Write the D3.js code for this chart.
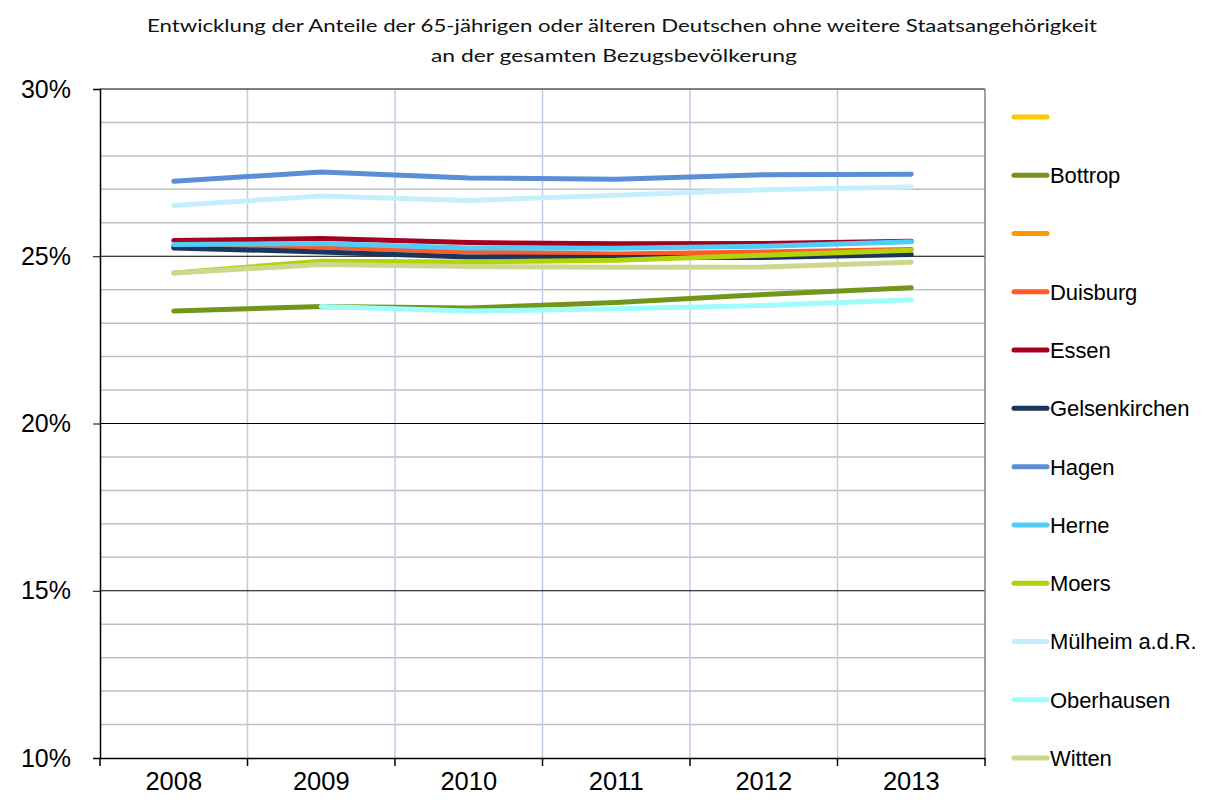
<!DOCTYPE html>
<html>
<head>
<meta charset="utf-8">
<script src="https://cdn.jsdelivr.net/npm/d3@7"></script>
<style>
  body { margin: 0; background: #fff; }
  svg { display: block; }
</style>
</head>
<body>
<div id="chart"></div>
<script>
(function() {

  // data (shares, in %)
  var years = ['2008', '2009', '2010', '2011', '2012', '2013'];
  var names = ['', 'Bottrop', '', 'Duisburg', 'Essen', 'Gelsenkirchen', 'Hagen', 'Herne',
    'Moers', 'Mülheim a.d.R.', 'Oberhausen', 'Witten'];
  var colors = ['#ffc800', '#719619', '#ff9900', '#ff5a2a', '#a50021', '#1b365d', '#5a8ed5',
    '#50cdf7', '#b4d20b', '#c6effd', '#9efcfc', '#ccd88f'];

  var blank1 = [null, null, null, null, null, null];
  var bottrop = [23.36, 23.5, 23.45, 23.62, 23.86, 24.06];
  var blank2 = [null, null, null, null, null, null];
  var duisburg = [25.3, 25.28, 25.13, 25.07, 25.13, 25.2];
  var essen = [25.47, 25.53, 25.41, 25.37, 25.38, 25.45];
  var gelsenkirchen = [25.25, 25.13, 24.98, 24.96, 24.96, 25.05];
  var hagen = [27.24, 27.52, 27.34, 27.3, 27.44, 27.45];
  var herne = [25.35, 25.38, 25.25, 25.24, 25.3, 25.43];
  var moers = [24.5, 24.85, 24.83, 24.88, 25.03, 25.18];
  var muelheim = [26.52, 26.8, 26.67, 26.82, 26.99, 27.07];
  var oberhausen = [null, 23.5, 23.36, 23.43, 23.53, 23.7];
  var witten = [24.5, 24.75, 24.69, 24.67, 24.68, 24.82];

  var yTicks = [10, 15, 20, 25, 30];

  var series = [blank1, bottrop, blank2, duisburg, essen, gelsenkirchen, hagen, herne,
    moers, muelheim, oberhausen, witten];

  init();

  function init() {
    var width = 1210;
    var height = 808;

    var svg = d3.select('#chart')
      .append('svg')
      .attr('width', width)
      .attr('height', height);

    var x = d3.scaleBand()
      .domain(years)
      .range([100, 985]);

    var y = d3.scaleLinear()
      .domain([10, 30])
      .range([758, 89]);

    // title
    var title = svg.append('g')
      .attr('font-family', 'Lato, "Open Sans", sans-serif')
      .attr('font-size', 16.5)
      .attr('fill', '#111')
      .attr('text-anchor', 'middle');
    title.append('text')
      .attr('x', 622).attr('y', 32)
      .attr('textLength', 950).attr('lengthAdjust', 'spacingAndGlyphs')
      .text('Entwicklung der Anteile der 65-jährigen oder älteren Deutschen ohne weitere Staatsangehörigkeit');
    title.append('text')
      .attr('x', 614).attr('y', 62)
      .attr('textLength', 366).attr('lengthAdjust', 'spacingAndGlyphs')
      .text('an der gesamten Bezugsbevölkerung');

    // minor gridlines every 1%
    var grid = svg.append('g');
    grid.selectAll('line.minor')
      .data(d3.range(11, 30).filter(function(d) { return d % 5 !== 0; }))
      .enter()
      .append('line')
      .attr('x1', 100).attr('x2', 985)
      .attr('y1', function(d) { return y(d); })
      .attr('y2', function(d) { return y(d); })
      .attr('stroke', '#c0c0c0')
      .attr('stroke-width', 1.5);

    // vertical gridlines between categories
    grid.selectAll('line.v')
      .data(years.slice(1))
      .enter()
      .append('line')
      .attr('x1', function(d) { return x(d); })
      .attr('x2', function(d) { return x(d); })
      .attr('y1', 89).attr('y2', 758)
      .attr('stroke', '#bccbec')
      .attr('stroke-width', 1.5);

    // major gridlines
    grid.selectAll('line.major')
      .data([15, 20, 25, 30])
      .enter()
      .append('line')
      .attr('x1', 100).attr('x2', 985)
      .attr('y1', function(d) { return y(d); })
      .attr('y2', function(d) { return y(d); })
      .attr('stroke', '#000')
      .attr('stroke-width', 1);

    // right border
    svg.append('line')
      .attr('x1', 985).attr('x2', 985)
      .attr('y1', 89).attr('y2', 758)
      .attr('stroke', '#808080')
      .attr('stroke-width', 1.5);

    // y axis
    var yAxis = svg.append('g')
      .attr('transform', 'translate(100,0)')
      .call(d3.axisLeft(y)
        .tickValues(yTicks)
        .tickSize(7)
        .tickPadding(22)
        .tickFormat(function(d) { return d + '%'; }));
    yAxis.select('.domain').attr('stroke', '#000').attr('stroke-width', 1.5);
    yAxis.selectAll('text')
      .attr('font-family', '"Liberation Sans", Arial, sans-serif')
      .attr('font-size', 25)
      .attr('fill', '#000');

    // x axis
    var xAxis = svg.append('g')
      .attr('transform', 'translate(0,758)')
      .call(d3.axisBottom(x).tickSize(0).tickPadding(14));
    xAxis.select('.domain').attr('stroke', '#000').attr('stroke-width', 1.5);
    xAxis.selectAll('text')
      .attr('font-family', '"Liberation Sans", Arial, sans-serif')
      .attr('font-size', 25.5)
      .attr('fill', '#000');
    xAxis.selectAll('line.bound')
      .data(years.map(function(d) { return x(d); }).concat([985]))
      .enter()
      .append('line')
      .attr('x1', function(d) { return d; })
      .attr('x2', function(d) { return d; })
      .attr('y1', 0).attr('y2', 8)
      .attr('stroke', '#000')
      .attr('stroke-width', 1.5);

    // lines
    var line = d3.line()
      .defined(function(d) { return d != null; })
      .x(function(d, i) { return x(years[i]) + x.bandwidth() / 2; })
      .y(function(d) { return y(d); });

    svg.append('g')
      .selectAll('path')
      .data(series)
      .enter()
      .append('path')
      .attr('fill', 'none')
      .attr('stroke', function(d, i) { return colors[i]; })
      .attr('stroke-width', 5)
      .attr('stroke-linecap', 'round')
      .attr('stroke-linejoin', 'round')
      .attr('d', line);

    // legend
    var legendY = d3.scalePoint()
      .domain(d3.range(names.length))
      .range([117, 758]);

    var legend = svg.append('g')
      .selectAll('g')
      .data(names)
      .enter()
      .append('g')
      .attr('transform', function(d, i) { return 'translate(0,' + legendY(i) + ')'; });

    legend.append('line')
      .attr('x1', 1014).attr('x2', 1047)
      .attr('stroke', function(d, i) { return colors[i]; })
      .attr('stroke-width', 5)
      .attr('stroke-linecap', 'round');

    legend.append('text')
      .attr('x', 1050)
      .attr('y', 8)
      .attr('font-family', '"Liberation Sans", Arial, sans-serif')
      .attr('font-size', 22)
      .attr('letter-spacing', -0.1)
      .attr('fill', '#000')
      .text(function(d) { return d; });
  }

})()
</script>
</body>
</html>
